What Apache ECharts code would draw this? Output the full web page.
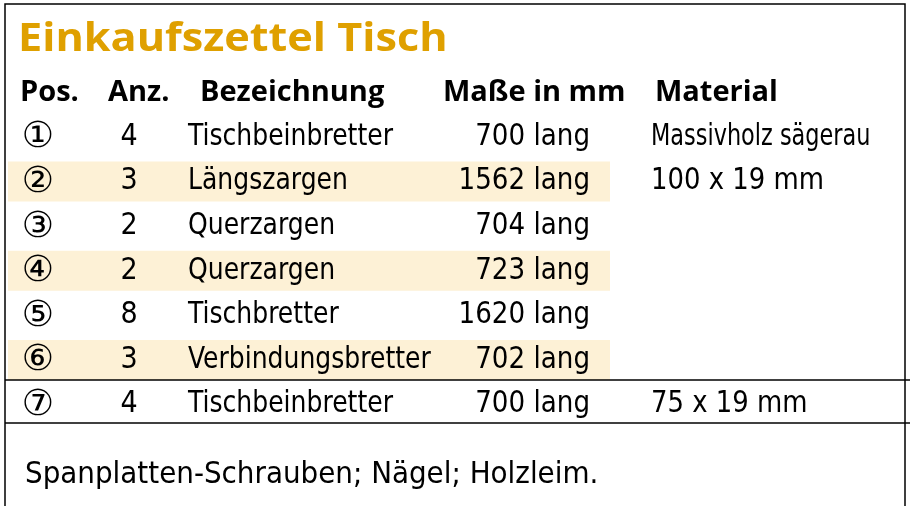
<!DOCTYPE html>
<html><head><meta charset="utf-8">
<script src="https://cdn.jsdelivr.net/npm/echarts@6/dist/echarts.min.js"></script>
<style>html,body{margin:0;padding:0;background:#fff}#c{width:910px;height:506px}</style>
</head><body><div id="c"></div>
<script>
const title = "Einkaufszettel Tisch";
const headers = ["Pos.", "Anz.", "Bezeichnung", "Maße in mm", "Material"];
const positions = ["①","②","③","④","⑤","⑥","⑦"];
const counts = ["4","3","2","2","8","3","4"];
const names = ["Tischbeinbretter","Längszargen","Querzargen","Querzargen","Tischbretter","Verbindungsbretter","Tischbeinbretter"];
const sizes = ["700 lang","1562 lang","704 lang","723 lang","1620 lang","702 lang","700 lang"];
const materials = ["Massivholz sägerau","100 x 19 mm","","","","","75 x 19 mm"];
const footer = "Spanplatten-Schrauben; Nägel; Holzleim.";

const F = '"Liberation Sans Narrow","DejaVu Sans Condensed","Roboto Condensed",sans-serif';
const FB = '"Open Sans","Liberation Sans",sans-serif';
const g = [];
const rowY = i => 137 + i * 44.6;
const txt = (x, y, text, font, align, sx) => ({type:'text', x, y, scaleX: sx || 1,
  style:{text, font, fill:'#000', align: align || 'left', verticalAlign:'middle'}});
positions.forEach((p, i) => {
  if (i % 2 === 1 && i < 6) g.push({type:'rect', shape:{x:8,y:rowY(i)-20,width:602,height:40}, style:{fill:'#fdf1d6'}});
});
g.push({type:'rect', shape:{x:5,y:4,width:900,height:520}, style:{fill:'none',stroke:'#000',lineWidth:1.5}});
g.push({type:'line', shape:{x1:5,y1:380,x2:910,y2:380}, style:{stroke:'#000',lineWidth:1.5}});
g.push({type:'line', shape:{x1:5,y1:423,x2:910,y2:423}, style:{stroke:'#000',lineWidth:1.5}});
g.push({type:'text', x:18, y:40, scaleX:1.08, style:{text:title, font:'bold 40px '+FB, fill:'#dfa000', verticalAlign:'middle'}});
const hx = [20,108,200,443,655];
headers.forEach((h,i)=>g.push({type:'text', x:hx[i], y:93, style:{text:h, font:'bold 29px '+FB, fill:'#000', verticalAlign:'middle'}}));
positions.forEach((p,i)=>{
  const y = rowY(i);
  g.push(txt(38, y+1, p, '36px "DejaVu Sans"', 'center'));
  g.push(txt(129, y, counts[i], '30px '+F, 'center'));
  g.push(txt(188, y, names[i], '30px '+F, 'left', 0.93));
  g.push(txt(590, y, sizes[i], '30px '+F, 'right', 0.97));
  if (materials[i]) g.push(txt(651, y, materials[i], '30px '+F, 'left', i === 0 ? 0.83 : 0.96));
});
g.push(txt(25, 475, footer, '30px '+F, 'left', 1.03));
const chart = echarts.init(document.getElementById('c'));
chart.setOption({animation:false, graphic:g});
</script></body></html>
